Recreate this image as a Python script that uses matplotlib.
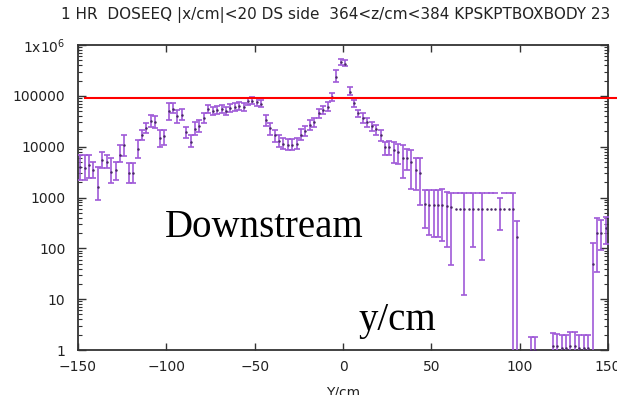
import numpy as np
import matplotlib
matplotlib.use("Agg")
import matplotlib.pyplot as plt

# ---------------------------------------------------------
# Data: dose per 2.5 cm bin along Y (nan = empty bin)
# dose_lo == 0 -> lower error runs below zero (only the top cap is drawn)
# ---------------------------------------------------------
y_cm = np.arange(-148.75, 150, 2.5)

nan = np.nan
dose = [4000, 3800, 4400, 3500, 1600, 5500, 5000, 3200, 3500, 7000,
        11000, 3000, 3000, 9000, 17000, 23000, 32000, 30000, 15000, 16000,
        50000, 55000, 40000, 42000, 19000, 12500, 22000, 25000, 37000, 55000,
        50000, 52000, 55000, 50000, 58000, 60000, 62000, 60000, 78000, 80000,
        76000, 70000, 34000, 23000, 17000, 13000, 11500, 11000, 11000, 11500,
        17000, 20000, 27000, 30000, 45000, 52000, 60000, 95000, 240000, 460000,
        430000, 120000, 72000, 46000, 36000, 30000, 25000, 22000, 17000, 10000,
        10000, 8500, 8000, 6000, 6000, 5000, 3500, 3000, 750, 700,
        700, 700, 700, 680, 650, 600, 600, 600, 600, 600,
        600, 600, 600, 600, 600, 600, 600, 600, 600, 170,
        nan, nan, 1.0, 1.0, nan, nan, nan, 1.2, 1.2, 1.1,
        1.1, 1.2, 1.2, 1.1, 1.1, 1.1, 50, 200, 200, 250]
dose_lo = [2200, 2200, 2400, 2400, 900, 3800, 3800, 1900, 2200, 5000,
           6500, 1900, 1900, 6000, 13500, 18600, 24400, 23000, 10000, 10800,
           33500, 46000, 29000, 33000, 15000, 9800, 17000, 19000, 29000, 46000,
           42000, 44000, 46000, 42000, 48000, 50000, 52000, 50000, 66000, 68000,
           64000, 60000, 25000, 17000, 12400, 10000, 9000, 8600, 8600, 9000,
           13500, 16000, 21000, 24000, 37000, 43000, 50000, 80000, 185000, 400000,
           380000, 104000, 60000, 38000, 29000, 24000, 20000, 17000, 13000, 7000,
           7000, 4800, 4500, 2400, 3500, 1500, 1400, 710, 250, 183,
           167, 167, 140, 106, 47, 0, 0, 12, 0, 106,
           0, 59, 0, 0, 0, 230, 0, 0, 0.5, 0.5,
           nan, nan, 0.3, 0.3, nan, nan, nan, 0.3, 0.3, 0.3,
           0.3, 0.3, 0.3, 0.3, 0.3, 0.3, 0.5, 34, 93, 120]
dose_hi = [6900, 6900, 6900, 5000, 3900, 7900, 6900, 6000, 5000, 10800,
           17000, 4800, 4800, 13500, 21300, 29200, 42000, 40000, 21300, 21300,
           72000, 72000, 52000, 55000, 24000, 17000, 30000, 33000, 46000, 66000,
           60000, 63000, 66000, 60000, 70000, 72000, 74000, 72000, 92000, 95000,
           90000, 83000, 42000, 29000, 21300, 17000, 15000, 14000, 14000, 15000,
           22000, 25000, 34000, 37000, 56000, 63000, 74000, 115000, 320000, 530000,
           500000, 149000, 83000, 52000, 45000, 37000, 30000, 27000, 21000, 12400,
           13000, 12400, 11500, 10800, 9000, 8600, 6000, 6000, 1400, 1400,
           1400, 1400, 1450, 1300, 1250, 1230, 1230, 1230, 1230, 1230,
           1230, 1230, 1230, 1230, 1230, 980, 1230, 1230, 1230, 345,
           nan, nan, 1.8, 1.8, nan, nan, nan, 2.2, 2.1, 2.0,
           2.0, 2.3, 2.3, 2.0, 2.0, 2.0, 130, 400, 360, 420]

red_level = 90000

title = "1 HR  DOSEEQ |x/cm|<20 DS side  364<z/cm<384 KPSKPTBOXBODY 23"
x_ticks = [-150, -100, -50, 0, 50, 100, 150]
y_ticks = [1, 10, 100, 1000, 10000, 100000, 1000000]
y_labels = ["1", "10", "100", "1000", "10000", "100000", r"1x10$^{6}$"]

dose = np.array(dose)
dose_lo = np.array(dose_lo)
dose_hi = np.array(dose_hi)

# ---------------------------------------------------------
# Figure
# ---------------------------------------------------------
fig = plt.figure(figsize=(6.17, 3.95), dpi=100)
ax = fig.add_axes([78 / 617, 45 / 395, 530 / 617, 305 / 395])

purple = "#a05ad8"
full = dose_lo > 0
cap_only = dose_lo == 0

ax.errorbar(y_cm[full], dose[full],
            yerr=[dose[full] - dose_lo[full], dose_hi[full] - dose[full]],
            fmt="none", ecolor=purple, elinewidth=1.2, capsize=2.3,
            capthick=1.2, zorder=3)
# bins whose lower error goes below zero: just the upper cap
ax.plot(y_cm[cap_only], dose_hi[cap_only], "_", color=purple,
        ms=4.6, mew=1.2, zorder=3)
# centre points
ax.plot(y_cm, dose, ".", color="#4a2a66", ms=1.6, zorder=4)

# red reference line (runs off the right edge)
ax.plot([-146, 160], [red_level, red_level], color="red", lw=1.5,
        clip_on=False, zorder=5)

ax.set_yscale("log")
ax.set_xlim(-150, 150)
ax.set_ylim(1, 1e6)
ax.set_xticks(x_ticks)
ax.set_yticks(y_ticks)
ax.set_yticklabels(y_labels)

for s in ax.spines.values():
    s.set_color("#333333")
    s.set_linewidth(1.3)
ax.tick_params(which="both", direction="in", top=True, right=True,
               colors="#333333", labelcolor="#222222", labelsize=10)
ax.tick_params(axis="x", which="major", length=5, width=1, pad=7)
ax.tick_params(axis="y", which="major", length=6, width=1, pad=9)
ax.tick_params(axis="y", which="minor", length=3, width=0.8)
ax.tick_params(axis="x", which="minor", bottom=False, top=False)

fig.text(336 / 617, 1 - 15 / 395, title, ha="center", va="center",
         fontsize=11, color="#222222")
fig.text(343 / 617, 1 - 386 / 395, "Y/cm", ha="center", va="top",
         fontsize=10, color="#222222")

# overlaid annotations
fig.text(264 / 617, 1 - 237 / 395, "Downstream", ha="center",
         va="baseline", fontsize=28, family="Liberation Serif")
fig.text(397 / 617, 1 - 330 / 395, "y/cm", ha="center",
         va="baseline", fontsize=28, family="Liberation Serif")

fig.savefig("out.png", dpi=100)
